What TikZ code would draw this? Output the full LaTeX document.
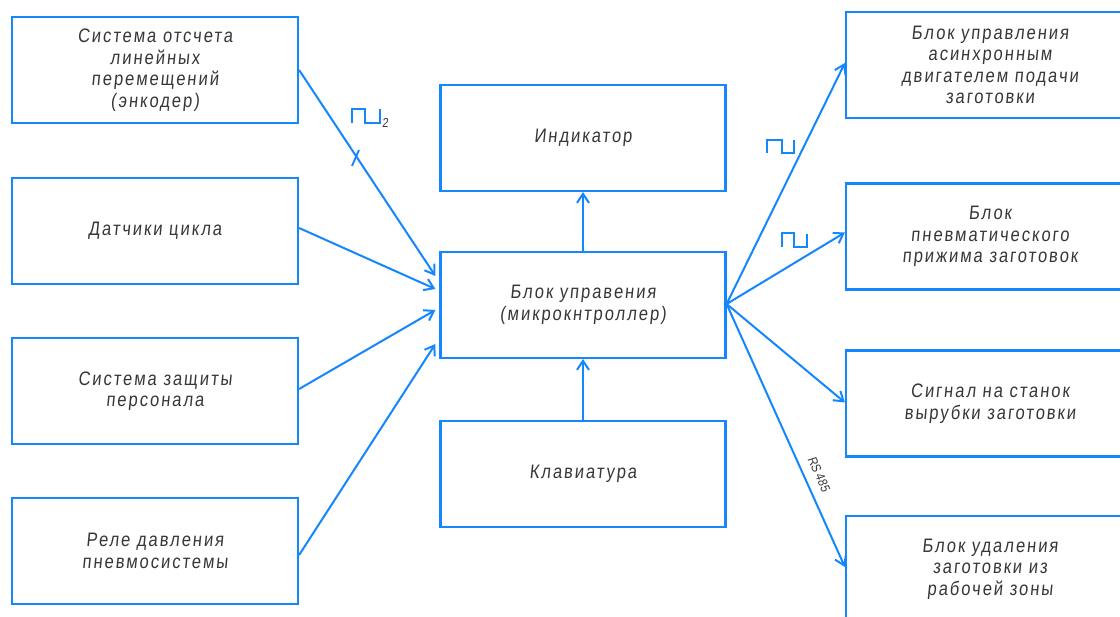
\documentclass[tikz,border=0pt]{standalone}
\usepackage{fontspec}
\usetikzlibrary{arrows.meta,calc}
\newfontfamily\gostfont[FakeSlant=0.1,FakeStretch=0.85,LetterSpace=10]{Liberation Sans}
\newfontfamily\rsfont[FakeSlant=0.1,FakeStretch=0.85]{Liberation Sans}
\definecolor{lineblue}{RGB}{20,135,255}
\definecolor{txtgray}{RGB}{55,55,55}
\tikzset{
  blockbox/.style={draw=lineblue, line width=2.2pt, rectangle, inner sep=0pt,
    minimum width=#1, minimum height=106pt, align=center, text=txtgray,
    font=\gostfont\fontsize{19.5}{21.5}\selectfont},
  blockbox/.default=286pt,
  conn/.style={draw=lineblue, line width=2pt, -{Straight Barb[length=9pt,width=12pt]}},
  pulse/.style={draw=lineblue, line width=2.2pt},
  smalltxt/.style={text=txtgray, font=\gostfont\fontsize{13}{14}\selectfont, inner sep=0pt},
  rstxt/.style={text=txtgray, font=\rsfont\fontsize{13}{14}\selectfont, inner sep=0pt}
}
\begin{document}
\begin{tikzpicture}[x=1pt,y=-1pt]
\useasboundingbox (0,0) rectangle (1120,617);
\clip (0,0) rectangle (1120,617);
\fill[white] (0,0) rectangle (1120,617);
% left column
\node[blockbox] (b1) at (155,70) {Система отсчета\\линейных\\перемещений\\(энкодер)};
\node[blockbox] (b2) at (155,231) {Датчики цикла};
\node[blockbox] (b3) at (155,391) {Система защиты\\персонала};
\node[blockbox] (b4) at (155,551) {Реле давления\\пневмосистемы};
% centre column
\node[blockbox=285pt] (ind) at (583,138) {Индикатор};
\node[blockbox=285pt] (blok) at (583,305) {Блок управения\\(микрокнтроллер)};
\node[blockbox=285pt] (kl) at (583,474) {Клавиатура};
% right column
\node[blockbox=288pt] (r1) at (990,65) {Блок управления\\асинхронным\\двигателем подачи\\заготовки};
\node[blockbox=288pt] (r2) at (990,236.5) {Блок\\пневматического\\прижима заготовок};
\node[blockbox=288pt] (r3) at (990,403.5) {Сигнал на станок\\вырубки заготовки};
\node[blockbox=288pt] (r4) at (990,569) {Блок удаления\\заготовки из\\рабочей зоны};
% arrow targets on the control block
\coordinate (t1) at ($(blok.west)+(-4,-29)$);
\coordinate (t2) at ($(blok.west)+(-4,-16)$);
\coordinate (t3) at ($(blok.west)+(-4,5)$);
\coordinate (t4) at ($(blok.west)+(-4,39)$);
\coordinate (s1) at ($(b1.east)+(0,0)$);
\coordinate (s2) at ($(b2.east)+(0,-3)$);
\coordinate (s3) at ($(b3.east)+(0,-2)$);
\coordinate (s4) at ($(b4.east)+(0,4)$);
\draw[conn] (s1) -- (t1);
\draw[conn] (s2) -- (t2);
\draw[conn] (s3) -- (t3);
\draw[conn] (s4) -- (t4);
\draw[conn] (blok.north) -- (ind.south);
\draw[conn] (kl.north) -- (blok.south);
\coordinate (o) at ($(blok.east)+(0,-1)$);
\coordinate (e1) at ($(r1.west)+(0,-2)$);
\coordinate (e2) at ($(r2.west)+(0,-4)$);
\coordinate (e3) at ($(r3.west)+(0,-1)$);
\coordinate (e4) at ($(r4.west)+(0,-2)$);
\draw[conn] (o) -- (e1);
\draw[conn] (o) -- (e2);
\draw[conn] (o) -- (e3);
\draw[conn] (o) -- (e4);
% pulse symbols
\draw[pulse] (352,123) -- (352,109) -- (365,109) -- (365,123) -- (380,123) -- (380,109);
\node[smalltxt, anchor=south west] (sub2) at (382,128) {2};
\draw[draw=lineblue, line width=1.9pt] (359,150) -- (352,166);
\draw[pulse] (767,153) -- (767,140) -- (782,140) -- (782,153) -- (794,153) -- (794,140);
\draw[pulse] (782,247) -- (782,233) -- (794,233) -- (794,247) -- (807,247) -- (807,234);
% RS label
\node[rstxt, rotate=-65.8] (rs) at (819,474) {RS 485};
\end{tikzpicture}
\end{document}
